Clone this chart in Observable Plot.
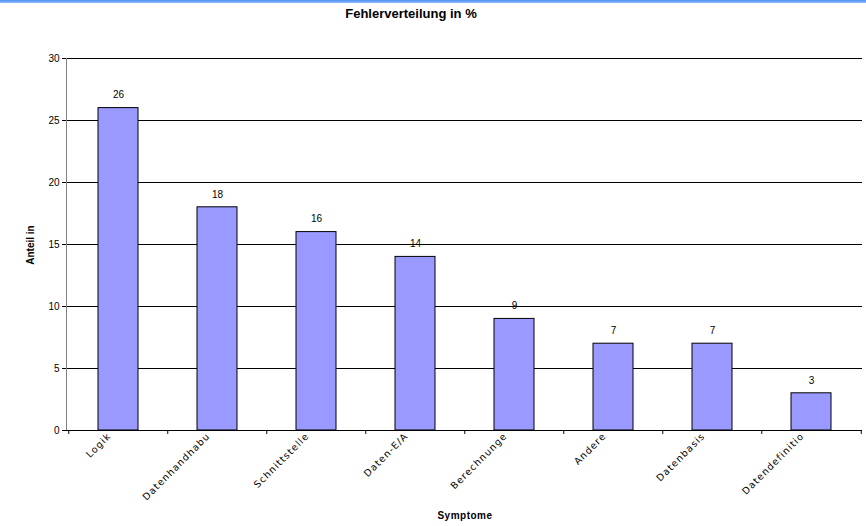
<!DOCTYPE html>
<html>
<head>
<meta charset="utf-8">
<script src="https://cdn.jsdelivr.net/npm/d3@7"></script>
<script src="https://cdn.jsdelivr.net/npm/@observablehq/plot@0.6"></script>
<style>
  html, body { margin: 0; padding: 0; background: #fff; }
  #wrap { position: relative; width: 866px; height: 526px; font-family: "Liberation Sans", Arial, sans-serif; }
  #topbar { position: absolute; left: 0; top: 0; width: 866px; height: 3px; background: linear-gradient(to bottom, #4f8ff0, #8fbcff); }
  #title { position: absolute; top: 6px; left: 411px; transform: translateX(-50%); font-weight: bold; font-size: 13px; color: #000; white-space: nowrap; }
  #xlabel { position: absolute; top: 510px; left: 465px; transform: translateX(-50%); font-weight: bold; font-size: 10px; letter-spacing: 0.5px; }
  #ylabel { position: absolute; top: 245px; left: 30px; transform: translate(-50%, -50%) rotate(-90deg); font-weight: bold; font-size: 10px; white-space: nowrap; }
  #chart { position: absolute; left: 0; top: 0; }
  #chart g[aria-label="x-axis tick label"] text { letter-spacing: 1.1px; font-family: "DejaVu Sans", sans-serif; }
</style>
</head>
<body>
<div id="wrap">
  <div id="chart"></div>
  <div id="topbar"></div>
  <div id="title">Fehlerverteilung in %</div>
  <div id="ylabel">Anteil in</div>
  <div id="xlabel">Symptome</div>
</div>
<script>
const categories = ["Logik", "Datenhandhabu", "Schnittstelle", "Daten-E/A", "Berechnunge", "Andere", "Datenbasis", "Datendefinitio"];
const values = [26, 18, 16, 14, 9, 7, 7, 3];
const yTicks = [0, 5, 10, 15, 20, 25, 30];

const data = categories.map((c, i) => ({ cat: c, value: values[i] }));

const W = 866, H = 526;
const mL = 66, mR = 4, mT = 58, mB = 96;
const bw = (W - mL - mR) / categories.length;

const chart = Plot.plot({
  width: W,
  height: H,
  marginLeft: mL,
  marginRight: mR,
  marginTop: mT,
  marginBottom: mB,
  style: { fontFamily: "Liberation Sans, Arial, sans-serif", background: "white", color: "#000" },
  x: { domain: categories, paddingInner: 0.6, paddingOuter: 0.3, align: 0.5, label: null },
  y: { domain: [0, 30], ticks: yTicks, label: null },
  marks: [
    Plot.gridY(yTicks.filter(d => d > 0), { stroke: "#000", strokeOpacity: 1, strokeWidth: 1 }),
    Plot.barY(data, { x: "cat", y: "value", fill: "#9999ff", stroke: "#000", strokeWidth: 1 }),
    Plot.text(data, { x: "cat", y: "value", text: d => String(d.value), dy: -13, fontSize: 10, fill: "#000" }),
    Plot.frame({ anchor: "left", stroke: "#808080" }),
    Plot.ruleY([0], { stroke: "#000" }),
    Plot.axisY({ ticks: yTicks, tickSize: 4, tickPadding: 3, fontSize: 10, label: null, stroke: "#000" }),
    Plot.axisX({ tickSize: 0, tickRotate: -45, fontSize: 9.5, tickPadding: 4, label: null, dx: -9 }),
    Plot.ruleX(categories, { x: d => d, dx: -bw / 2, y1: 0, y2: -0.32, stroke: "#000" }),
    Plot.ruleX([categories[categories.length - 1]], { x: d => d, dx: bw / 2, y1: 0, y2: -0.32, stroke: "#000" })
  ]
});
document.getElementById("chart").appendChild(chart);
</script>
</body>
</html>
